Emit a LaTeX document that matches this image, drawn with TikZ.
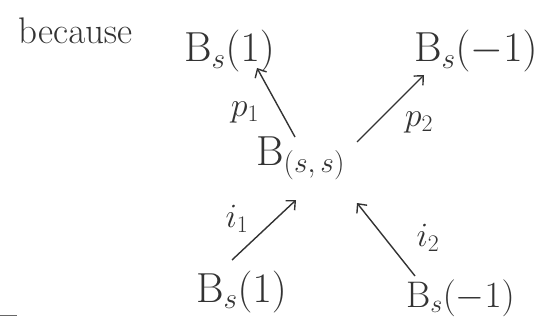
\RequirePackage{fix-cm}
\documentclass[tikz,border=0pt]{standalone}
\usetikzlibrary{arrows.meta}
\begin{document}
\begin{tikzpicture}[x=1pt,y=-1pt,
  ink/.style={text=black!80},
  big/.style={ink,inner sep=0pt,anchor=base west,font=\fontsize{42}{48}\selectfont},
  small/.style={ink,inner sep=0pt,anchor=base west,font=\fontsize{37}{42}\selectfont},
  mid/.style={ink,inner sep=0pt,anchor=base west,font=\fontsize{37}{42}\selectfont},
  lab/.style={ink,inner sep=0pt,font=\fontsize{34}{40}\selectfont},
  arr/.style={draw=black!80,line width=1.4pt,-{Straight Barb[length=7pt,width=13pt,line width=1.4pt]}}]
\useasboundingbox (0,0) rectangle (539,329);
\node[mid] (bc) at (18,44) {$\mathrm{because}$};
\node[big] (t1) at (184,62) {$\mathrm{B}_s(1)$};
\node[big] (t2) at (414,62) {$\mathrm{B}_s(-1)$};
\node[big] (ss) at (256,165) {$\mathrm{B}_{(s,\,s)}$};
\node[big] (b1) at (196,302) {$\mathrm{B}_s(1)$};
\node[small] (b2) at (406,307) {$\mathrm{B}_s(-1)$};
\coordinate (p1s) at (295,137);
\coordinate (p1e) at (257,68);
\coordinate (p2s) at (357,142);
\coordinate (p2e) at (424,75);
\coordinate (i1s) at (232,260);
\coordinate (i1e) at (296,200);
\coordinate (i2s) at (415,276);
\coordinate (i2e) at (357,203);
\draw[arr] (p1s) -- (p1e);
\draw[arr] (p2s) -- (p2e);
\draw[arr] (i1s) -- (i1e);
\draw[arr] (i2s) -- (i2e);
\node[lab] (lp1) at (245,112) {$p_1$};
\node[lab] (lp2) at (419,122) {$p_2$};
\node[lab] (li1) at (237,219) {$i_1$};
\node[lab] (li2) at (428,238) {$i_2$};
\coordinate (d1) at (0,315);
\coordinate (d2) at (17,315);
\draw[black!60,line width=1pt] (d1) -- (d2);
\end{tikzpicture}
\end{document}
